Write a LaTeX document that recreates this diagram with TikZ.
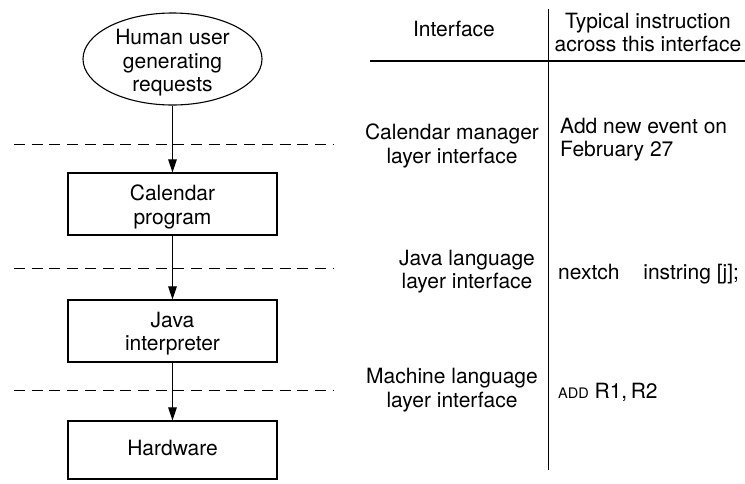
\documentclass[tikz,border=0pt]{standalone}
\usepackage{fontspec}
\setmainfont{TeX Gyre Heros}
\usetikzlibrary{shapes.geometric,arrows.meta}

\tikzset{
  txt/.style={inner sep=0pt, font=\fontsize{21}{23.5}\selectfont, align=center},
  layerbox/.style={draw, line width=1.1pt, minimum width=209pt, inner sep=0pt},
  flow/.style={line width=1pt, -{Triangle[length=13pt,width=8.5pt]}},
  divider/.style={line width=0.9pt, dash pattern=on 11pt off 6.7pt},
  rule/.style={line width=1.2pt}
}

\begin{document}
\begin{tikzpicture}[x=1pt,y=-1pt]
\useasboundingbox (0,0) rectangle (745,483);

% left column: the layers
\node[draw, ellipse, line width=1.1pt, minimum width=179pt, minimum height=92pt, inner sep=0pt] (user) at (172.5,59) {};
\node[txt] (usertxt) at (172.5,63) {Human user\\generating\\requests};

\node[layerbox, minimum height=62pt] (cal) at (172.5,204) {};
\node[txt] (caltxt) at (172.5,207) {Calendar\\program};

\node[layerbox, minimum height=62pt] (java) at (172.5,331) {};
\node[txt] (javatxt) at (172.5,333.5) {Java\\interpreter};

\node[layerbox, minimum height=58pt] (hw) at (172.5,450) {};
\node[txt] (hwtxt) at (172.5,447.5) {Hardware};

% interface boundaries
\coordinate (d1a) at (14,144);  \coordinate (d1b) at (333,144);
\coordinate (d2a) at (14,268);  \coordinate (d2b) at (333,268);
\coordinate (d3a) at (14,390);  \coordinate (d3b) at (333,390);
\draw[divider] (d1a) -- (d1b);
\draw[divider] (d2a) -- (d2b);
\draw[divider] (d3a) -- (d3b);

% requests flowing down through the layers
\draw[flow] (user.south) -- (cal.north);
\draw[flow] (cal.south) -- (java.north);
\draw[flow] (java.south) -- (hw.north);

% table of interfaces
\coordinate (vtop) at (548.5,9);  \coordinate (vbot) at (548.5,470);
\coordinate (hl) at (370,61);     \coordinate (hr) at (745,61);
\draw[rule] (vtop) -- (vbot);
\draw[rule] (hl) -- (hr);

\node[txt] (hdr1) at (454,28.5) {Interface};
\node[txt] (hdr2) at (648,32.7) {Typical instruction\\across this interface};

\node[txt] (if1) at (452,146) {Calendar manager\\layer interface};
\node[txt, anchor=west, align=left] (ex1) at (560,139.7) {Add new event on\\February 27};

\node[txt] (if2) at (467,271.5) {Java language\\layer interface};
\node[txt, anchor=base west] (ex2) at (558,279) {nextch\hspace{18pt} instring [j];};

\node[txt] (if3) at (452,390.2) {Machine language\\layer interface};
\node[txt, anchor=base west] (ex3) at (558,398) {{\fontsize{14.5}{16}\selectfont ADD}\ R1,\,R2};

\end{tikzpicture}
\end{document}
